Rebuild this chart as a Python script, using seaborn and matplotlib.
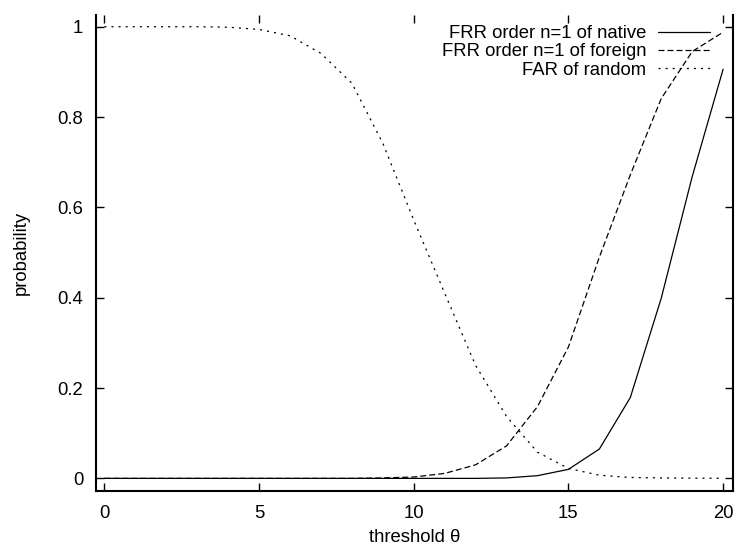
import matplotlib
matplotlib.use("Agg")
import matplotlib.pyplot as plt
import seaborn as sns
import numpy as np
import pandas as pd

# Threshold values and the three error-rate curves
threshold = list(range(0, 21))
frr_native = [0, 0, 0, 0, 0, 0, 0, 0, 0, 0, 0, 0, 0, 0.001,
              0.006, 0.02, 0.065, 0.179, 0.399, 0.668, 0.906]
frr_foreign = [0, 0, 0, 0, 0, 0, 0, 0, 0, 0.001, 0.003, 0.011, 0.03, 0.072,
               0.159, 0.291, 0.49, 0.672, 0.841, 0.945, 0.988]
far_random = [1.0, 1.0, 1.0, 1.0, 0.999, 0.994, 0.98, 0.941, 0.875, 0.742,
              0.572, 0.41, 0.25, 0.137, 0.058, 0.022, 0.007, 0.002, 0.001,
              0.0005, 0.0002]

labels = ["FRR order n=1 of native", "FRR order n=1 of foreign", "FAR of random"]
x_ticks = [0, 5, 10, 15, 20]
y_ticks = [0, 0.2, 0.4, 0.6, 0.8, 1.0]
y_ticklabels = ["0", "0.2", "0.4", "0.6", "0.8", "1"]

sns.set_style("ticks")
plt.rcParams["font.family"] = ["Liberation Sans", "DejaVu Sans"]
plt.rcParams["lines.scale_dashes"] = False
plt.rcParams["text.color"] = "black"
plt.rcParams["axes.labelcolor"] = "black"
plt.rcParams["xtick.color"] = "black"
plt.rcParams["ytick.color"] = "black"

fig = plt.figure(figsize=(7.39, 5.49), dpi=100)
ax = fig.add_axes([0.1295, 0.1056, 0.9915 - 0.1295, 0.9727 - 0.1056])

styles = ["-", (0, (4.3, 2.2)), (0, (1.5, 3.6))]
for series, lab, ls in zip([frr_native, frr_foreign, far_random], labels, styles):
    df = pd.DataFrame({"threshold": threshold, "probability": series})
    sns.lineplot(data=df, x="threshold", y="probability", ax=ax, color="black",
                 linewidth=0.9, linestyle=ls, label=lab)

ax.set_xlim(-0.28, 20.31)
ax.set_ylim(-0.028, 1.026)
ax.set_xticks(x_ticks)
ax.set_xticklabels([str(v) for v in x_ticks])
ax.set_yticks(y_ticks)
ax.set_yticklabels(y_ticklabels)

fs = 13.3
ax.tick_params(axis="x", direction="in", length=6, width=1.0, top=True,
               labelsize=fs, pad=10, color="black", labelcolor="black")
ax.tick_params(axis="y", direction="in", length=6, width=1.0, right=True,
               labelsize=fs, pad=9, color="black", labelcolor="black")

for side in ["left", "bottom", "right"]:
    ax.spines[side].set_linewidth(1.5)
    ax.spines[side].set_color("black")
ax.spines["top"].set_visible(False)

ax.set_xlabel("threshold θ", fontsize=fs, color="black")
ax.set_ylabel("probability", fontsize=fs, color="black")
ax.xaxis.label.set_va("center")
ax.yaxis.label.set_va("center")
ax.xaxis.set_label_coords(0.5, -0.0966)
ax.yaxis.set_label_coords(-0.117, 0.5)

leg = ax.legend(loc="upper right", bbox_to_anchor=(0.9644, 0.979),
                frameon=False, fontsize=fs, markerfirst=False,
                handlelength=2.82, handletextpad=0.63, labelspacing=0.08,
                borderpad=0, borderaxespad=0)
for t in leg.get_texts():
    t.set_color("black")

fig.savefig("out.png", dpi=100, facecolor="white")
